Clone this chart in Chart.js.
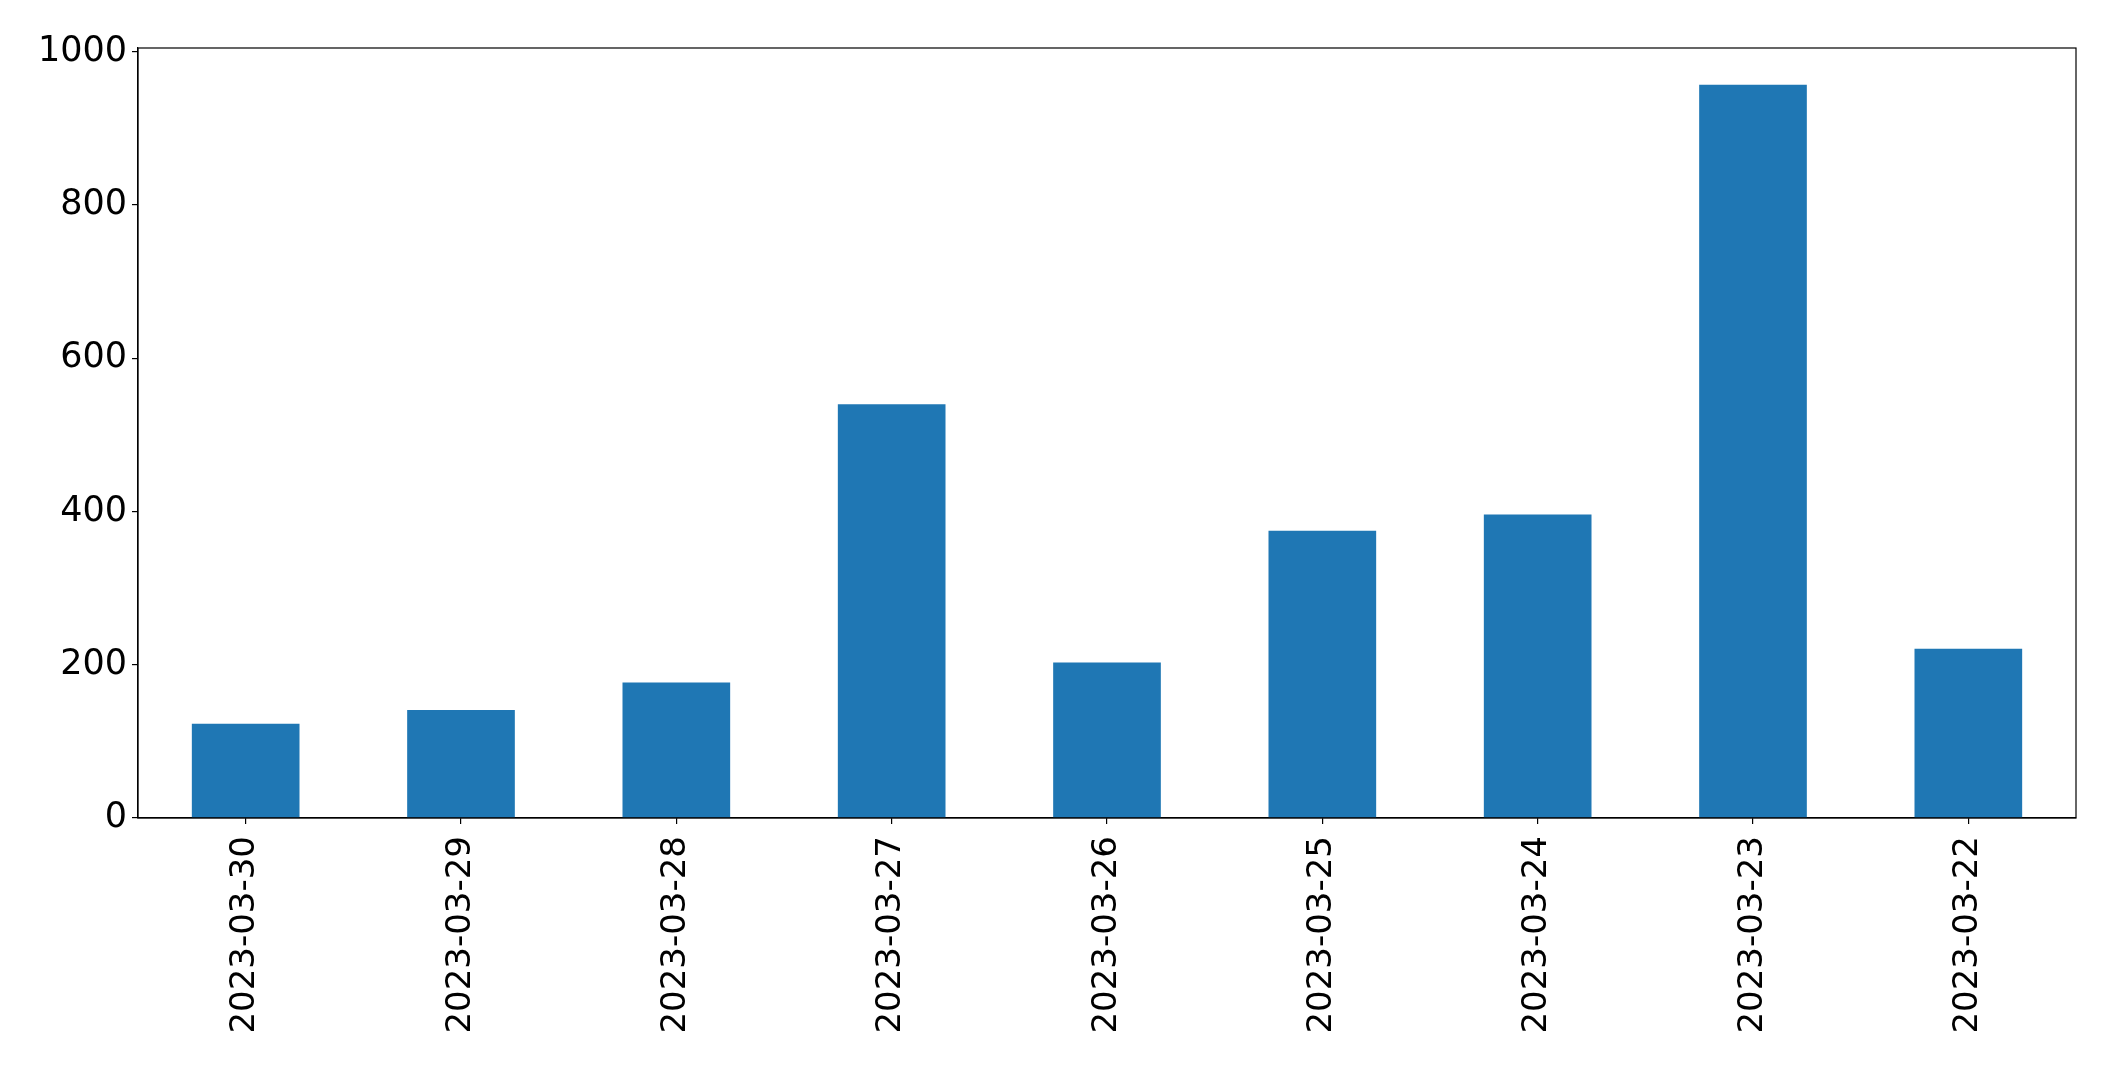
<!DOCTYPE html>
<html>
<head>
<meta charset="utf-8">
<script src="https://cdn.jsdelivr.net/npm/chart.js@4"></script>
<style>
  html, body { margin: 0; padding: 0; background: #fff; }
  #wrap { width: 2115px; height: 1070px; }
</style>
</head>
<body>
<div id="wrap"><canvas id="barChart"></canvas></div>
<script>
  // dates in the order they are plotted
  const dates = ['2023-03-30', '2023-03-29', '2023-03-28', '2023-03-27', '2023-03-26',
                 '2023-03-25', '2023-03-24', '2023-03-23', '2023-03-22'];
  const counts = [123, 141, 177, 540, 203, 375, 396, 957, 221];
  const yTicks = [0, 200, 400, 600, 800, 1000];

  // frame around the plot area (matplotlib style)
  const frame = {
    id: 'frame',
    afterDraw(chart) {
      const a = chart.chartArea;
      const ctx = chart.ctx;
      ctx.save();
      ctx.strokeStyle = '#000';
      ctx.lineWidth = 1.2;
      ctx.strokeRect(a.left, a.top, a.right - a.left, a.bottom - a.top);
      ctx.restore();
    }
  };

  new Chart(document.getElementById('barChart'), {
    type: 'bar',
    data: {
      labels: dates,
      datasets: [{ data: counts, backgroundColor: '#1f77b4', borderWidth: 0 }]
    },
    options: {
      responsive: true,
      maintainAspectRatio: false,
      animation: false,
      layout: { padding: { left: 0, top: 48, right: 39, bottom: 0 } },
      plugins: { legend: { display: false }, tooltip: { enabled: false } },
      datasets: { bar: { categoryPercentage: 1, barPercentage: 0.5 } },
      scales: {
        x: {
          offset: true,
          grid: { offset: false, drawOnChartArea: false, tickLength: 6, color: '#000', lineWidth: 1.2 },
          border: { color: '#000', width: 1.2 },
          ticks: {
            color: '#000', minRotation: 90, maxRotation: 90, padding: 12,
            font: { family: 'DejaVu Sans', size: 34 }
          },
          afterFit(scale) { scale.height = 252; }
        },
        y: {
          min: 0,
          max: 1005,
          afterBuildTicks(scale) { scale.ticks = yTicks.map(v => ({ value: v })); },
          grid: { drawOnChartArea: false, tickLength: 6, color: '#000', lineWidth: 1.2 },
          border: { color: '#000', width: 1.2 },
          ticks: {
            color: '#000', padding: 5,
            font: { family: 'DejaVu Sans', size: 35 },
            callback: v => String(v)
          },
          afterFit(scale) { scale.width = 138; }
        }
      }
    },
    plugins: [frame]
  });
</script>
</body>
</html>
